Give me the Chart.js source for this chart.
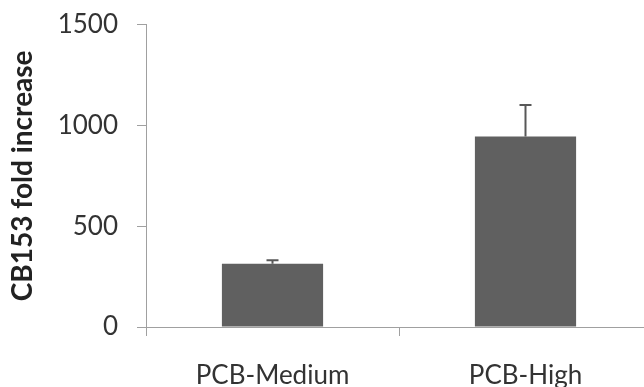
<!DOCTYPE html>
<html>
<head>
<meta charset="utf-8">
<script src="https://cdn.jsdelivr.net/npm/chart.js@4"></script>
<style>
  html, body { margin: 0; padding: 0; background: #fff; overflow: hidden; }
  #wrap { width: 660px; height: 397px; margin-top: -10px; }
  canvas { display: block; }
</style>
</head>
<body>
<div id="wrap"><canvas id="c" width="660" height="397"></canvas></div>
<script>
// Exposure groups and measured fold increase of CB153
const categories = ['PCB-Medium', 'PCB-High'];
const foldIncrease = [314, 945];
const upperError = [17, 156];
const yTicks = [0, 500, 1000, 1500];

const axisColor = '#a0a0a0';
const textColor = '#333333';

// Upper-only error bars drawn from the data through the scales
const errorBars = {
  id: 'errorBars',
  afterDatasetsDraw(chart) {
    const { ctx, scales: { x, y } } = chart;
    ctx.save();
    ctx.strokeStyle = '#585858';
    ctx.lineWidth = 2;
    foldIncrease.forEach((v, i) => {
      const px = x.getPixelForValue(i);
      const top = y.getPixelForValue(v + upperError[i]);
      const base = y.getPixelForValue(v);
      ctx.beginPath();
      ctx.moveTo(px, base);
      ctx.lineTo(px, top);
      ctx.moveTo(px - 6, top);
      ctx.lineTo(px + 6, top);
      ctx.stroke();
    });
    ctx.restore();
  }
};

new Chart(document.getElementById('c'), {
  type: 'bar',
  data: {
    labels: categories,
    datasets: [{
      data: foldIncrease,
      backgroundColor: '#606060',
      borderWidth: 0,
      barPercentage: 0.4,
      categoryPercentage: 1.0
    }]
  },
  options: {
    responsive: false,
    animation: false,
    events: [],
    layout: { padding: { top: 15, right: 8, left: 0, bottom: 0 } },
    plugins: { legend: { display: false }, tooltip: { enabled: false } },
    scales: {
      x: {
        grid: { display: true, drawOnChartArea: false, drawTicks: true, tickLength: 9, color: axisColor, offset: true },
        border: { display: true, color: axisColor, width: 1 },
        ticks: { color: textColor, font: { family: 'Lato', size: 26 }, padding: 24, maxRotation: 0 },
        afterFit(s) { s.height = 60; }
      },
      y: {
        min: 0,
        max: 1500,
        afterBuildTicks(s) { s.ticks = yTicks.map(v => ({ value: v })); },
        grid: { display: true, drawOnChartArea: false, drawTicks: true, tickLength: 9, color: axisColor },
        border: { display: true, color: axisColor, width: 1 },
        ticks: { color: textColor, font: { family: 'Lato', size: 26 }, padding: 19, callback: v => String(v) },
        title: {
          display: true,
          text: 'CB153 fold increase',
          color: '#222222',
          font: { family: 'Lato', size: 28, weight: 'bold' },
          padding: { top: 6, bottom: 0 }
        },
        afterFit(s) { s.width = 146; }
      }
    }
  },
  plugins: [errorBars]
});
</script>
</body>
</html>
